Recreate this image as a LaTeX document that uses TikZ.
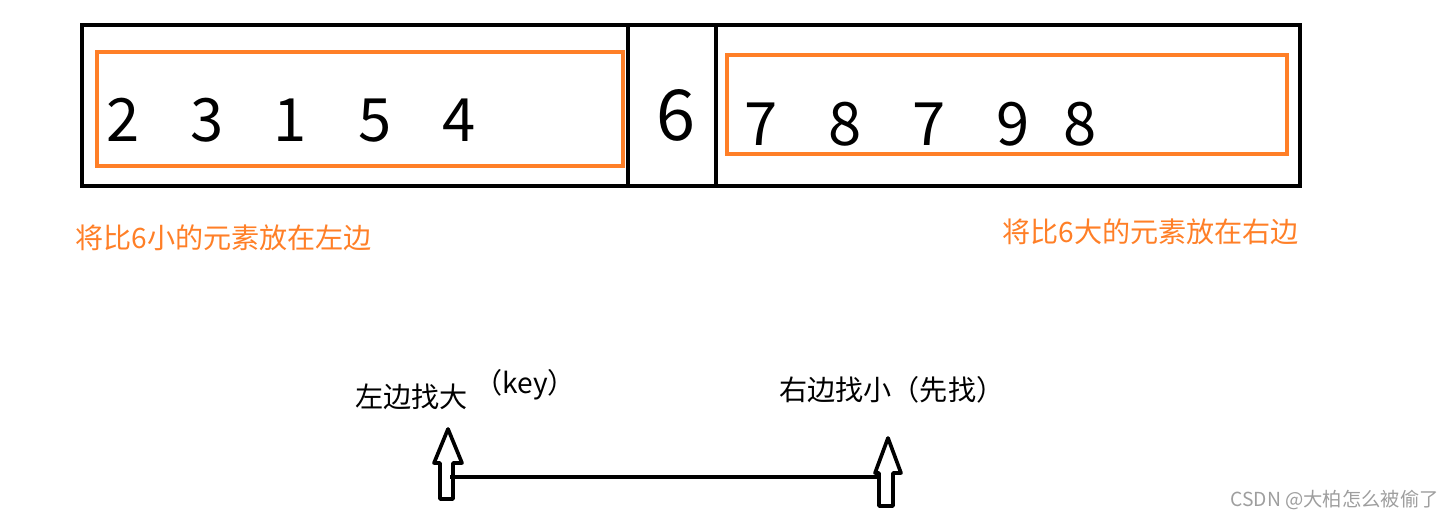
\documentclass[tikz,border=0pt]{standalone}
\usepackage{fontspec}
\setmainfont{Noto Sans CJK SC}
\usepackage{tikz}
\usetikzlibrary{calc}
\definecolor{paintorange}{RGB}{255,127,39}
\tikzset{
  digit/.style={inner sep=0pt, anchor=base, font=\fontsize{34}{40}\selectfont},
  label/.style={inner sep=0pt, anchor=west, font=\fontsize{16}{19}\selectfont},
  hollowarrow/.style={draw=black, line width=2.1pt, line join=round, fill=white}
}

\begin{document}
\begin{tikzpicture}[x=0.02cm,y=-0.02cm]
\useasboundingbox (0,0) rectangle (1454,522);
% the array
\draw[line width=2.6pt] (82,25) rectangle (1300,186);
\draw[line width=2.6pt] (628,25) -- (628,186);
\draw[line width=2.6pt] (716,25) -- (716,186);
\begin{scope}[paintorange, line width=2.4pt]
\draw (97,52) rectangle (623,166);
\draw (727,55) rectangle (1287,154);
\end{scope}
%     left part
\node[digit] (l1) at (123,141) {2};
\node[digit] (l2) at (207,141) {3};
\node[digit] (l3) at (290,141) {1};
\node[digit] (l4) at (375,141) {5};
\node[digit] (l5) at (459,141) {4};
%     pivot
\node[digit, font=\fontsize{40}{46}\selectfont] (key) at (676,140) {6};
%     right part
\node[digit] (r1) at (761,145) {7};
\node[digit] (r2) at (845,145) {8};
\node[digit] (r3) at (929,145) {7};
\node[digit] (r4) at (1013,145) {9};
\node[digit] (r5) at (1080,145) {8};
% the orange notes
\begin{scope}[paintorange]
\node[label] (small) at (75,238) {将比6小的元素放在左边};
\node[label] (big) at (1002,232) {将比6大的元素放在右边};
\end{scope}
% the two pointers
\node[label] (lefttext) at (355,397) {左边找大};
\node[label] (keytext) at (474,385) {（key）};
\node[label] (righttext) at (779,390) {右边找小（先找）};
\coordinate (la) at (450,477);
\coordinate (ra) at (880,477);
\draw[line width=2pt] (la) -- (ra);
\draw[hollowarrow] (448,429) -- (462,463) -- (453,463) -- (453,499) -- (440,499) -- (440,463) -- (434,463) -- cycle;
\draw[hollowarrow] (888,438) -- (901,473) -- (893,473) -- (893,506) -- (879,506) -- (879,473) -- (875,473) -- cycle;
\draw[line width=2pt] (la) -- (453,477);
% watermark
\node[inner sep=0pt, anchor=west, text=black!38, font=\fontsize{11}{13}\selectfont] (mark) at (1230,500) {CSDN @大柏怎么被偷了};
\end{tikzpicture}
\end{document}
